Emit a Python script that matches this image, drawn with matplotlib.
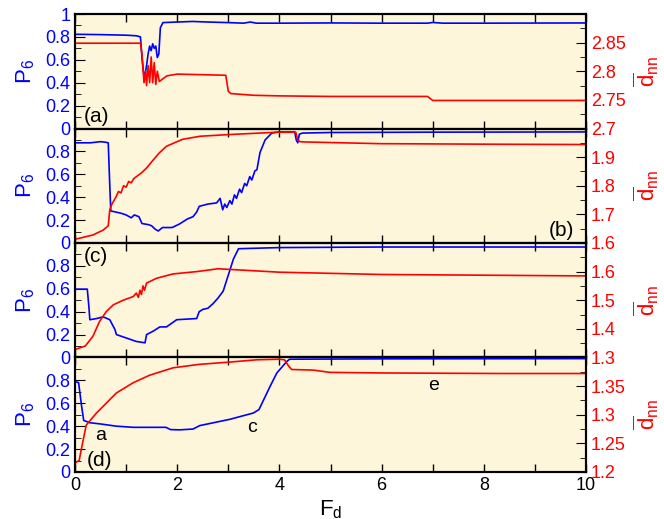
import matplotlib
matplotlib.use("Agg")
import matplotlib.pyplot as plt
from matplotlib.ticker import MultipleLocator

plt.rcParams['font.family'] = ['Liberation Sans', 'DejaVu Sans']
plt.rcParams['mathtext.fontset'] = 'custom'
plt.rcParams['mathtext.rm'] = 'Liberation Sans'
plt.rcParams['mathtext.it'] = 'Liberation Sans'

BLUE = '#0000ff'
RED = '#ff0000'
BG = '#fdf6da'

# ---- panel (a) ----
a_p6_x = [0, 0.5, 1.0, 1.2, 1.28, 1.31, 1.34, 1.37, 1.40, 1.43, 1.46, 1.49, 1.52, 1.55, 1.58,
          1.61, 1.64, 1.67, 1.72, 2.0, 2.3, 2.6, 3.0, 3.3, 3.43, 3.55, 4.0, 5.0, 6.0, 6.9, 7.0,
          7.2, 8.0, 10.0]
a_p6_y = [0.823, 0.82, 0.815, 0.81, 0.80, 0.62, 0.49, 0.47, 0.55, 0.65, 0.72, 0.68, 0.74, 0.70, 0.72,
          0.62, 0.65, 0.88, 0.925, 0.93, 0.935, 0.93, 0.925, 0.92, 0.93, 0.92, 0.92, 0.922, 0.92, 0.92,
          0.926, 0.92, 0.92, 0.922]
a_d_x = [0, 1.28, 1.31, 1.35, 1.38, 1.40, 1.43, 1.46, 1.49, 1.52, 1.55, 1.58, 1.61, 1.65, 1.72,
         1.8, 2.0, 2.5, 2.95, 3.0, 3.05, 3.5, 4.0, 5.0, 6.0, 6.9, 7.0, 8.0, 10.0]
a_d_y = [2.849, 2.849, 2.83, 2.78, 2.80, 2.775, 2.81, 2.78, 2.825, 2.78, 2.815, 2.777, 2.80, 2.782, 2.787,
         2.792, 2.795, 2.794, 2.793, 2.765, 2.761, 2.758, 2.757, 2.756, 2.756, 2.756, 2.749, 2.749, 2.749]

# ---- panel (b) ----
b_p6_x = [0, 0.3, 0.5, 0.6, 0.65, 0.68, 0.70, 0.75, 0.9, 1.0, 1.1, 1.16, 1.25, 1.31, 1.44, 1.5,
          1.57, 1.63, 1.71, 1.9, 2.04, 2.2, 2.31, 2.38, 2.43, 2.6, 2.77, 2.84, 2.89, 2.93, 2.97,
          3.03, 3.07, 3.12, 3.16, 3.22, 3.26, 3.32, 3.36, 3.42, 3.46, 3.52, 3.56, 3.62, 3.72,
          3.85, 3.98, 4.3, 4.33, 4.36, 4.39, 4.45, 5.0, 7.0, 10.0]
b_p6_y = [0.875, 0.875, 0.885, 0.88, 0.875, 0.5, 0.28, 0.275, 0.26, 0.245, 0.22, 0.245, 0.23, 0.17, 0.16, 0.15,
          0.12, 0.105, 0.135, 0.135, 0.165, 0.21, 0.23, 0.27, 0.32, 0.34, 0.35, 0.39, 0.29, 0.34, 0.31,
          0.37, 0.34, 0.42, 0.39, 0.47, 0.44, 0.52, 0.50, 0.58, 0.55, 0.63, 0.64, 0.79, 0.90,
          0.96, 0.97, 0.97, 0.90, 0.875, 0.95, 0.96, 0.965, 0.968, 0.97]
b_d_x = [0, 0.35, 0.55, 0.65, 0.68, 0.72, 0.75, 0.8, 0.85, 0.9, 0.95, 1.0, 1.05, 1.1, 1.15, 1.3,
         1.4, 1.53, 1.65, 1.79, 2.1, 2.45, 3.03, 3.95, 4.32, 4.36, 4.4, 4.5, 5.98, 8.33, 10.0]
b_d_y = [1.613, 1.628, 1.645, 1.66, 1.716, 1.735, 1.745, 1.76, 1.78, 1.775, 1.80, 1.795, 1.815, 1.81, 1.825, 1.845,
         1.862, 1.89, 1.915, 1.938, 1.962, 1.973, 1.979, 1.987, 1.987, 1.96, 1.954, 1.953, 1.947, 1.945, 1.944]

# ---- panel (c) ----
c_p6_x = [0, 0.24, 0.27, 0.29, 0.42, 0.55, 0.68, 0.78, 0.81, 0.94, 1.07, 1.2, 1.37, 1.4, 1.53,
          1.66, 1.79, 1.99, 2.38, 2.43, 2.5, 2.6, 2.7, 2.8, 2.9, 3.0, 3.1, 3.2, 4.0, 6.0, 10.0]
c_p6_y = [0.597, 0.597, 0.45, 0.33, 0.34, 0.355, 0.33, 0.245, 0.20, 0.18, 0.16, 0.14, 0.128, 0.20, 0.23,
          0.267, 0.267, 0.33, 0.34, 0.40, 0.42, 0.43, 0.47, 0.52, 0.58, 0.72, 0.86, 0.95, 0.96, 0.965, 0.965]
c_d_x = [0, 0.2, 0.35, 0.48, 0.61, 0.75, 0.94, 1.14, 1.2, 1.24, 1.27, 1.3, 1.33, 1.36, 1.4, 1.6,
         1.92, 2.38, 2.8, 3.0, 4.0, 6.0, 10.0]
c_d_y = [1.328, 1.34, 1.374, 1.426, 1.46, 1.484, 1.50, 1.513, 1.525, 1.51, 1.535, 1.52, 1.55, 1.535, 1.56, 1.577,
         1.592, 1.60, 1.61, 1.608, 1.598, 1.59, 1.585]

# ---- panel (d) ----
d_p6_x = [0, 0.07, 0.13, 0.17, 0.29, 0.49, 0.81, 1.14, 1.78, 1.87, 2.05, 2.31, 2.44, 3.03, 3.49,
          3.6, 3.82, 3.95, 4.15, 4.2, 6.0, 10.0]
d_p6_y = [0.79, 0.78, 0.57, 0.45, 0.43, 0.42, 0.40, 0.39, 0.39, 0.37, 0.368, 0.375, 0.405, 0.46, 0.515,
          0.545, 0.75, 0.865, 0.968, 0.985, 0.988, 0.99]
d_d_x = [0, 0.08, 0.16, 0.22, 0.42, 0.81, 1.14, 1.46, 1.92, 2.43, 3.03, 3.56, 4.0, 4.1, 4.18, 4.24,
         4.66, 4.99, 5.98, 8.33, 10.0]
d_d_y = [1.216, 1.22, 1.256, 1.282, 1.303, 1.338, 1.356, 1.369, 1.382, 1.388, 1.392, 1.396, 1.397, 1.396, 1.385, 1.379,
         1.378, 1.374, 1.373, 1.372, 1.372]

panels = [
    (a_p6_x, a_p6_y, a_d_x, a_d_y, (2.7, 2.9), [2.7, 2.75, 2.8, 2.85], 0.025, '(a)', (0.17, 0.06), True),
    (b_p6_x, b_p6_y, b_d_x, b_d_y, (1.6, 2.0), [1.6, 1.7, 1.8, 1.9], 0.05, '(b)', (9.28, 0.06), False),
    (c_p6_x, c_p6_y, c_d_x, c_d_y, (1.3, 1.7), [1.3, 1.4, 1.5, 1.6], 0.05, '(c)', (0.17, 0.83), False),
    (d_p6_x, d_p6_y, d_d_x, d_d_y, (1.2, 1.4), [1.2, 1.25, 1.3, 1.35], 0.025, '(d)', (0.23, 0.05), False),
]

fig, axes = plt.subplots(4, 1, figsize=(6.64, 5.19), dpi=100, sharex=True)
fig.subplots_adjust(left=0.113, right=0.8825, top=0.973, bottom=0.0906, hspace=0)

for ax, (px, py, dx, dy, dlim, dticks, dminor, lab, lpos, top1) in zip(axes, panels):
    ax.set_facecolor(BG)
    ax.plot(px, py, color=BLUE, lw=1.2, zorder=3)
    ax.set_ylim(0, 1)
    ax.set_yticks([0, 0.2, 0.4, 0.6, 0.8, 1.0] if top1 else [0, 0.2, 0.4, 0.6, 0.8])
    ax.set_yticklabels(['0', '0.2', '0.4', '0.6', '0.8', '1'] if top1 else ['0', '0.2', '0.4', '0.6', '0.8'])
    ax.yaxis.set_minor_locator(MultipleLocator(0.1))
    ax.tick_params(axis='x', which='both', direction='in', top=True, length=6, width=1)
    ax.tick_params(axis='y', which='major', direction='in', length=7, labelcolor=BLUE, labelsize=13)
    ax.tick_params(axis='y', which='minor', direction='in', length=4)
    ax.set_ylabel('P$_6$', color=BLUE, fontsize=16)
    ax.yaxis.set_label_coords(-0.075, 0.5)
    for s in ax.spines.values():
        s.set_linewidth(1.5)
    ax.text(lpos[0], lpos[1], lab, fontsize=15, color='black', zorder=5)

    tw = ax.twinx()
    tw.plot(dx, dy, color=RED, lw=1.2)
    tw.set_ylim(*dlim)
    tw.set_yticks(dticks)
    tw.set_yticklabels([f'{v:g}' for v in dticks])
    tw.yaxis.set_minor_locator(MultipleLocator(dminor))
    tw.tick_params(axis='y', which='major', direction='in', length=7, labelcolor=RED, labelsize=13)
    tw.tick_params(axis='y', which='minor', direction='in', length=4)
    tw.set_ylabel(r'$\overline{\rm d}_{\rm nn}$', color=RED, fontsize=16)
    tw.yaxis.set_label_coords(1.09, 0.5)
    for s in tw.spines.values():
        s.set_linewidth(1.5)

for ax in axes:
    ax.set_xlim(0, 10)
    ax.xaxis.set_major_locator(MultipleLocator(2))
    ax.xaxis.set_minor_locator(MultipleLocator(1))

axes[-1].tick_params(axis='x', labelsize=13)
axes[-1].set_xlabel('F$_d$', fontsize=16, labelpad=3)

axes[3].text(0.39, 0.28, 'a', fontsize=14)
axes[3].text(3.37, 0.35, 'c', fontsize=14)
axes[3].text(6.92, 0.72, 'e', fontsize=14)

fig.savefig('out.png', dpi=100)
